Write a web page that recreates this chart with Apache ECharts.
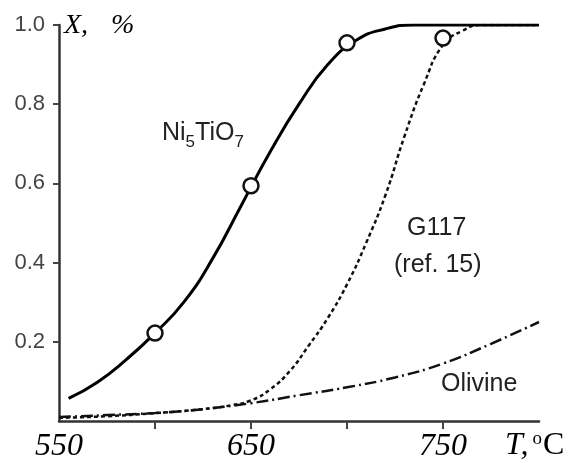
<!DOCTYPE html>
<html><head><meta charset="utf-8">
<script src="https://cdn.jsdelivr.net/npm/echarts@6/dist/echarts.min.js"></script>
<style>html,body{margin:0;padding:0;background:#fff}#c{width:571px;height:463px}</style>
</head><body><div id="c"></div>
<script>
// Temperature (°C) grid for the curves
const niT   = [555, 570, 585, 600, 615, 630, 645, 660, 675, 690, 705, 720, 735, 750, 800];
const niX   = [0.057, 0.098, 0.155, 0.222, 0.30, 0.41, 0.545, 0.68, 0.80, 0.90, 0.962, 0.99, 1.0, 1.0, 1.0];
const gT    = [550, 575, 600, 625, 640, 650, 660, 670, 680, 690, 700, 710, 720, 730, 740, 750, 760, 770, 780, 800];
const gX    = [0.008, 0.012, 0.02, 0.03, 0.04, 0.052, 0.08, 0.125, 0.19, 0.26, 0.345, 0.45, 0.57, 0.72, 0.85, 0.95, 0.985, 1.0, 1.0, 1.0];
const oT    = [550, 575, 600, 625, 650, 675, 700, 725, 750, 775, 800];
const oX    = [0.01, 0.015, 0.02, 0.03, 0.045, 0.065, 0.085, 0.11, 0.145, 0.195, 0.25];
const ptT   = [600, 650, 700, 750];
const ptX   = [0.222, 0.594, 0.955, 0.967];
const xTickValues  = [600, 650, 700, 750];
const xLabelValues = [550, 650, 750];
const yTickValues  = [0.2, 0.4, 0.6, 0.8, 1.0];

const zip = (a, b) => a.map((v, i) => [v, b[i]]);
const chart = echarts.init(document.getElementById('c'), null, {renderer: 'canvas'});
chart.setOption({
  animation: false,
  backgroundColor: '#fff',
  grid: {left: 59, right: 32, top: 25, bottom: 38, containLabel: false},
  xAxis: {
    type: 'value', min: 550, max: 800, interval: 50,
    axisLine: {show: true, lineStyle: {color: '#333', width: 2.5}},
    axisTick: {show: true, customValues: xTickValues, length: 8, inside: false, lineStyle: {color: '#444', width: 2}},
    axisLabel: {customValues: xLabelValues, margin: 10, color: '#000', fontFamily: 'Liberation Serif', fontStyle: 'italic', fontSize: 32},
    splitLine: {show: false}
  },
  yAxis: {
    type: 'value', min: 0, max: 1.0, interval: 0.2,
    axisLine: {show: true, lineStyle: {color: '#333', width: 2.5}},
    axisTick: {show: true, customValues: yTickValues, length: 6, lineStyle: {color: '#444', width: 2}},
    axisLabel: {customValues: yTickValues, margin: 14, color: '#444', fontFamily: 'Liberation Sans', fontSize: 22,
      formatter: v => v.toFixed(1)},
    splitLine: {show: false}
  },
  series: [
    {type: 'line', data: zip(niT, niX), smooth: 0.5, showSymbol: false, lineStyle: {color: '#000', width: 3}, z: 3},
    {type: 'line', data: zip(gT, gX), smooth: 0.5, showSymbol: false, lineStyle: {color: '#111', width: 2.5, type: [4, 3]}, z: 2},
    {type: 'line', data: zip(oT, oX), smooth: 0.5, showSymbol: false, lineStyle: {color: '#111', width: 2.5, type: [12, 4, 2, 4]}, z: 2},
    {type: 'scatter', data: zip(ptT, ptX), symbol: 'circle', symbolSize: 15,
      itemStyle: {color: '#fff', opacity: 1, borderColor: '#111', borderWidth: 2.5}, z: 5}
  ],
  graphic: [
    {type: 'text', left: 64, top: 12, style: {text: 'X,', fontFamily: 'Liberation Serif', fontStyle: 'italic', fontSize: 28, fill: '#000'}},
    {type: 'text', left: 111, top: 12, style: {text: '%', fontFamily: 'Liberation Serif', fontStyle: 'italic', fontSize: 28, fill: '#000'}},
    {type: 'text', left: 505, top: 430, style: {
      text: '{i|T,}{s|o}{c|C}',
      rich: {
        i: {fontFamily: 'Liberation Serif', fontStyle: 'italic', fontSize: 32, fill: '#000', verticalAlign: 'bottom'},
        s: {fontFamily: 'Liberation Serif', fontSize: 19, fill: '#000', verticalAlign: 'top', padding: [0, 1, 0, 4]},
        c: {fontFamily: 'Liberation Serif', fontSize: 32, fill: '#000', verticalAlign: 'bottom'}
      }}},
    {type: 'text', left: 162, top: 121, style: {
      text: '{a|Ni}{s|5}{a|TiO}{s|7}',
      rich: {
        a: {fontFamily: 'Liberation Sans', fontSize: 25, fill: '#222', verticalAlign: 'top', lineHeight: 30},
        s: {fontFamily: 'Liberation Sans', fontSize: 17, fill: '#222', verticalAlign: 'bottom', lineHeight: 30}
      }}},
    {type: 'text', left: 407, top: 216, style: {text: 'G117', fontFamily: 'Liberation Sans', fontSize: 25, fill: '#222'}},
    {type: 'text', left: 394, top: 253, style: {text: '(ref. 15)', fontFamily: 'Liberation Sans', fontSize: 25, fill: '#222'}},
    {type: 'text', left: 441, top: 372, style: {text: 'Olivine', fontFamily: 'Liberation Sans', fontSize: 25, fill: '#222'}}
  ]
});
</script></body></html>
